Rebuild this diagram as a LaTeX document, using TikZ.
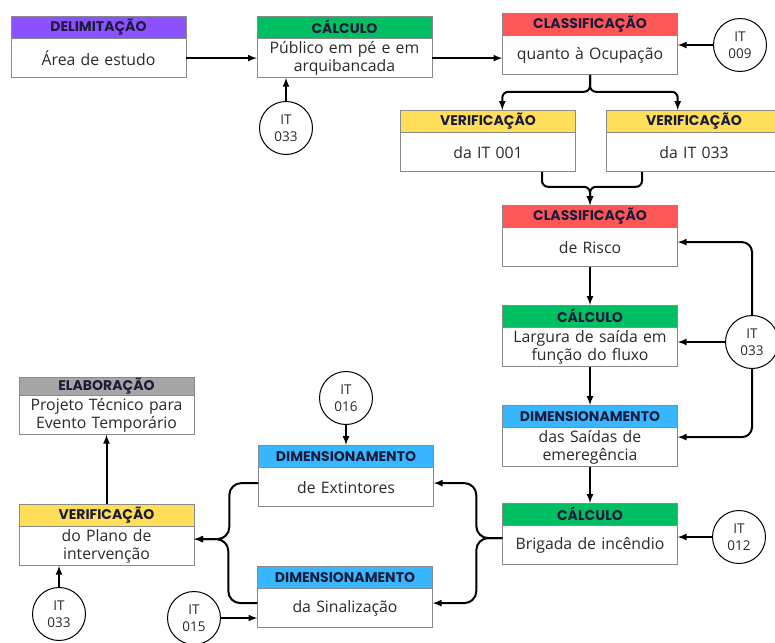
\documentclass[tikz,border=0pt]{standalone}
\usepackage{fontspec}
\setmainfont{Open Sans}
\newfontfamily\titulofont{Poppins}
\usepackage{tikz}
\usetikzlibrary{positioning,calc}
\definecolor{roxo}{HTML}{8C52FF}
\definecolor{verde}{HTML}{00BF63}
\definecolor{vermelho}{HTML}{FF5757}
\definecolor{amarelo}{HTML}{FFDE59}
\definecolor{azul}{HTML}{38B6FF}
\definecolor{cinza}{HTML}{A6A6A6}
\definecolor{borda}{HTML}{8A8A8A}
\definecolor{titulo}{HTML}{1C1C3A}
\definecolor{texto}{HTML}{2A2A2A}

\begin{document}
\begin{tikzpicture}[x=1pt,y=-1pt]
		\tikzstyle{cab}=[draw=borda, minimum width=175pt, minimum height=22pt, inner sep=0pt, text=titulo, font=\titulofont\bfseries\fontsize{14}{14}\selectfont]
		\tikzstyle{corpo}=[draw=borda, fill=white, text width=171pt, minimum height=39pt, inner sep=2pt, align=center, text=texto, font=\fontsize{15.8}{18}\selectfont]
		\tikzstyle{it}=[circle, draw=black, line width=1pt, fill=white, minimum size=53pt, inner sep=0pt, align=center, text=texto, font=\fontsize{13.5}{17}\selectfont]
		\tikzstyle{seta}=[-latex, line width=2pt]
		\useasboundingbox (0,0) rectangle (775,642);
		
		% Etapas (cabecalho + corpo)
		\node[cab, fill=roxo, anchor=north] (hdelim) at (98.5,16) {DELIMITAÇÃO};
		\node[corpo, below=0pt of hdelim] (delim) {Área de estudo};
		\node[cab, fill=verde, anchor=north] (hpublico) at (344.5,16) {CÁLCULO};
		\node[corpo, below=0pt of hpublico] (publico) {Público em pé e em\\arquibancada};
		\node[cab, fill=vermelho, anchor=north] (hocup) at (590,13) {CLASSIFICAÇÃO};
		\node[corpo, below=0pt of hocup] (ocup) {quanto à Ocupação};
		\node[cab, fill=amarelo, anchor=north] (hit001) at (488,110) {VERIFICAÇÃO};
		\node[corpo, below=0pt of hit001] (it001) {da IT 001};
		\node[cab, fill=amarelo, anchor=north] (hit033) at (694,110) {VERIFICAÇÃO};
		\node[corpo, below=0pt of hit033] (it033) {da IT 033};
		\node[cab, fill=vermelho, anchor=north] (hrisco) at (590,205) {CLASSIFICAÇÃO};
		\node[corpo, below=0pt of hrisco] (risco) {de Risco};
		\node[cab, fill=verde, anchor=north] (hlargura) at (590,305) {CÁLCULO};
		\node[corpo, below=0pt of hlargura] (largura) {Largura de saída em\\função do fluxo};
		\node[cab, fill=azul, anchor=north] (hsaidas) at (590,405) {DIMENSIONAMENTO};
		\node[corpo, below=0pt of hsaidas] (saidas) {das Saídas de\\emeregência};
		\node[cab, fill=verde, anchor=north] (hbrigada) at (590,503) {CÁLCULO};
		\node[corpo, below=0pt of hbrigada] (brigada) {Brigada de incêndio};
		\node[cab, fill=azul, anchor=north] (hextint) at (346,445) {DIMENSIONAMENTO};
		\node[corpo, below=0pt of hextint] (extint) {de Extintores};
		\node[cab, fill=azul, anchor=north] (hsinal) at (345,566) {DIMENSIONAMENTO};
		\node[corpo, below=0pt of hsinal] (sinal) {da Sinalização};
		\node[cab, fill=amarelo, anchor=north] (hplano) at (106.5,504) {VERIFICAÇÃO};
		\node[corpo, below=0pt of hplano] (plano) {do Plano de\\intervenção};
		\node[cab, fill=cinza, anchor=north, minimum height=18pt] (helab) at (106.5,377) {ELABORAÇÃO};
		\node[corpo, below=0pt of helab] (elab) {Projeto Técnico para\\Evento Temporário};
		
		% Instrucoes tecnicas
		\node[it] (itA) at (286,128) {IT\\033};
		\node[it] (itB) at (740,45) {IT\\009};
		\node[it] (itC) at (752,342) {IT\\033};
		\node[it] (itD) at (739,537) {IT\\012};
		\node[it] (itE) at (346,398) {IT\\016};
		\node[it] (itF) at (194,618) {IT\\015};
		\node[it] (itG) at (59,614) {IT\\033};
		
		% Setas
		\draw[seta] (delim.east) -- (publico.west);
		\draw[seta] (publico.east) -- (publico.east -| ocup.west);
		\draw[seta] (itA.north) -- (itA.north |- publico.south);
		\draw[seta] (itB) -- (itB -| ocup.east);
		\draw[seta, rounded corners=6pt] (ocup.south) -- ++(0,17) -| (ocup.west |- hit001.north);
		\draw[seta, rounded corners=6pt] (ocup.south) -- ++(0,17) -| (ocup.east |- hit033.north);
		\draw[seta, rounded corners=6pt] ([xshift=54pt]it001.south) -- ++(0,15) -| (hrisco.north);
		\draw[seta, rounded corners=6pt] ([xshift=-52pt]it033.south) -- ++(0,15) -| (hrisco.north);
		\draw[seta] (risco.south) -- (hlargura.north);
		\draw[seta] (largura.south) -- (hsaidas.north);
		\draw[seta] (saidas.south) -- (hbrigada.north);
		\draw[seta, rounded corners=10pt] (itC.north) |- ([yshift=5pt]risco.east);
		\draw[seta] (itC) -- (itC -| largura.east);
		\draw[seta, rounded corners=10pt] (itC.south) |- ([yshift=10pt]saidas.east);
		\draw[seta] (itD) -- (itD -| brigada.east);
		\draw[seta, rounded corners=12pt] ([yshift=7pt]brigada.west) -- ++(-26,0) |- ([yshift=4pt]extint.east);
		\draw[seta, rounded corners=12pt] ([yshift=7pt]brigada.west) -- ++(-26,0) |- ([yshift=5pt]sinal.east);
		\draw[seta] (itE.south) -- (hextint.north);
		\draw[seta] (itF) -- (itF -| sinal.west);
		\draw[seta, rounded corners=12pt] ([yshift=4pt]extint.west) -- ++(-29,0) |- ([yshift=7pt]plano.east);
		\draw[seta, rounded corners=12pt] ([yshift=5pt]sinal.west) -- ++(-29,0) |- ([yshift=7pt]plano.east);
		\draw[seta] (itG.north) -- (itG.north |- plano.south);
		\draw[seta] (hplano.north) -- (elab.south);
	\end{tikzpicture}
\end{document}
